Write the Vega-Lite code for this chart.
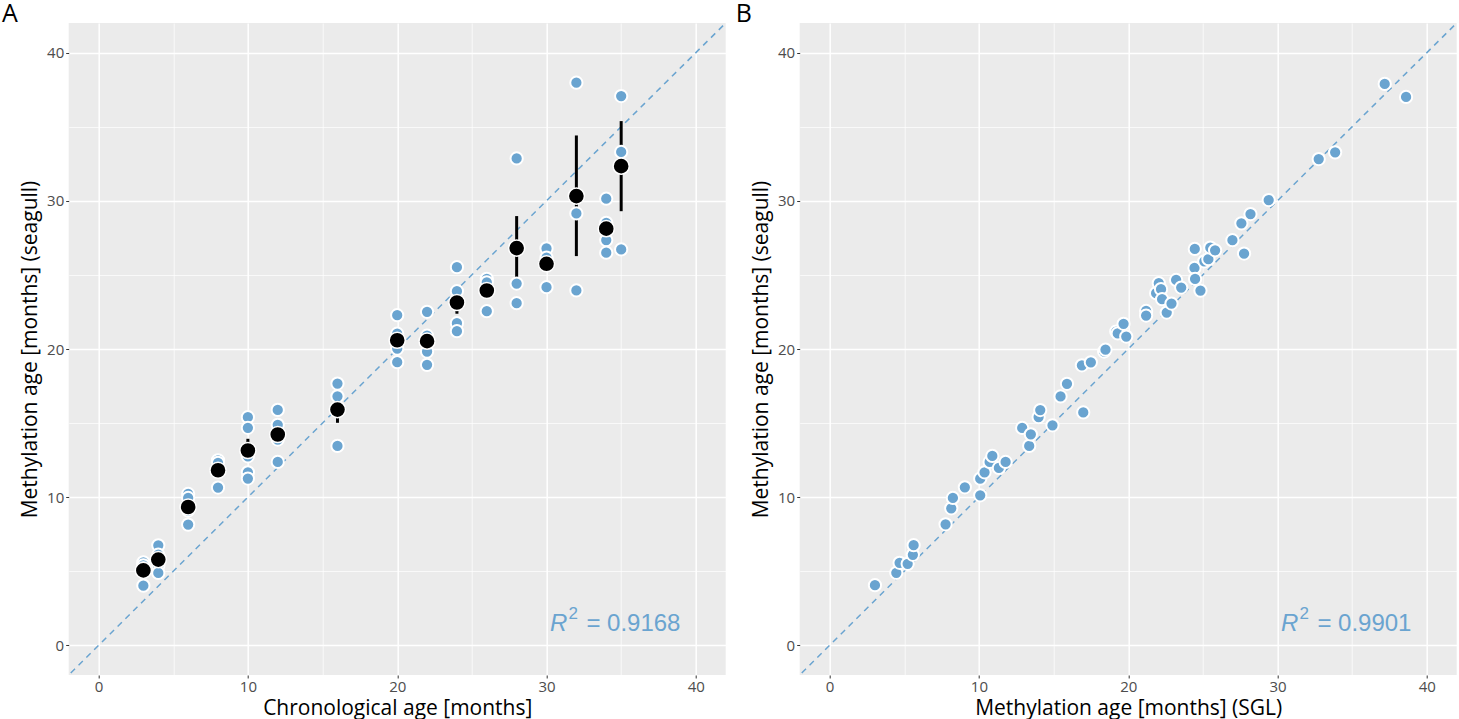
{
  "$schema": "https://vega.github.io/schema/vega-lite/v6.json",
  "background": "white",
  "padding": {"left": 1.7, "top": 2, "right": 0, "bottom": 0},
  "spacing": 10,
  "config": {
    "view": {"fill": "#ebebeb", "stroke": null},
    "axis": {"domain": false, "tickColor": "#333333", "tickSize": 3, "labelColor": "#4d4d4d", "labelFont": "Open Sans", "labelFontSize": 15, "labelPadding": 2, "labelFlush": false, "titleFont": "Open Sans", "titleFontSize": 21, "titleFontWeight": "normal", "titleColor": "#000000", "gridColor": "#ffffff"},
    "axisY": {"titlePadding": 6},
    "axisX": {"titlePadding": 3},
    "title": {"font": "Open Sans", "fontSize": 25, "fontWeight": "normal", "anchor": "start", "frame": "group", "offset": -4.35, "color": "#000000"}
  },
  "datasets": {
    "diag": [{"v": -5}, {"v": 50}],
    "indiv": [
      {"age": 3, "meth": 5.60}, {"age": 3, "meth": 5.40}, {"age": 3, "meth": 5.20}, {"age": 3, "meth": 4.03},
      {"age": 4, "meth": 6.75}, {"age": 4, "meth": 6.12}, {"age": 4, "meth": 5.60}, {"age": 4, "meth": 5.38}, {"age": 4, "meth": 4.89},
      {"age": 6, "meth": 10.22}, {"age": 6, "meth": 9.95}, {"age": 6, "meth": 9.10}, {"age": 6, "meth": 8.15},
      {"age": 8, "meth": 12.49}, {"age": 8, "meth": 12.31}, {"age": 8, "meth": 10.65},
      {"age": 10, "meth": 15.40}, {"age": 10, "meth": 14.68}, {"age": 10, "meth": 12.76}, {"age": 10, "meth": 11.68}, {"age": 10, "meth": 11.26},
      {"age": 12, "meth": 15.89}, {"age": 12, "meth": 14.88}, {"age": 12, "meth": 14.10}, {"age": 12, "meth": 13.89}, {"age": 12, "meth": 12.38},
      {"age": 16, "meth": 17.67}, {"age": 16, "meth": 16.81}, {"age": 16, "meth": 13.46},
      {"age": 20, "meth": 22.28}, {"age": 20, "meth": 21.03}, {"age": 20, "meth": 20.03}, {"age": 20, "meth": 19.11},
      {"age": 22, "meth": 22.51}, {"age": 22, "meth": 20.90}, {"age": 22, "meth": 19.83}, {"age": 22, "meth": 18.93},
      {"age": 24, "meth": 25.52}, {"age": 24, "meth": 23.90}, {"age": 24, "meth": 21.74}, {"age": 24, "meth": 21.20},
      {"age": 26, "meth": 24.74}, {"age": 26, "meth": 24.50}, {"age": 26, "meth": 24.00}, {"age": 26, "meth": 22.55},
      {"age": 28, "meth": 32.86}, {"age": 28, "meth": 24.42}, {"age": 28, "meth": 23.09},
      {"age": 30, "meth": 26.79}, {"age": 30, "meth": 26.16}, {"age": 30, "meth": 24.17},
      {"age": 32, "meth": 37.97}, {"age": 32, "meth": 29.15}, {"age": 32, "meth": 23.95},
      {"age": 34, "meth": 30.14}, {"age": 34, "meth": 28.52}, {"age": 34, "meth": 27.35}, {"age": 34, "meth": 26.50},
      {"age": 35, "meth": 37.07}, {"age": 35, "meth": 33.30}, {"age": 35, "meth": 26.72}
    ],
    "means": [
      {"age": 3, "mean": 5.06, "lo": 4.72, "hi": 5.40},
      {"age": 4, "mean": 5.79, "lo": 5.42, "hi": 6.16},
      {"age": 6, "mean": 9.34, "lo": 8.95, "hi": 9.73},
      {"age": 8, "mean": 11.82, "lo": 11.45, "hi": 12.19},
      {"age": 10, "mean": 13.15, "lo": 12.32, "hi": 13.94},
      {"age": 12, "mean": 14.23, "lo": 13.67, "hi": 14.79},
      {"age": 16, "mean": 15.91, "lo": 15.02, "hi": 16.77},
      {"age": 20, "mean": 20.59, "lo": 19.85, "hi": 21.32},
      {"age": 22, "mean": 20.53, "lo": 19.78, "hi": 21.25},
      {"age": 24, "mean": 23.14, "lo": 22.38, "hi": 23.86},
      {"age": 26, "mean": 23.95, "lo": 23.60, "hi": 24.30},
      {"age": 28, "mean": 26.81, "lo": 24.69, "hi": 28.97},
      {"age": 30, "mean": 25.75, "lo": 25.40, "hi": 26.10},
      {"age": 32, "mean": 30.32, "lo": 26.27, "hi": 34.41},
      {"age": 34, "mean": 28.12, "lo": 27.35, "hi": 28.86},
      {"age": 35, "mean": 32.34, "lo": 29.30, "hi": 35.38}
    ],
    "sgl": [
      {"sgl": 3.04, "seagull": 4.06}, {"sgl": 4.47, "seagull": 4.90}, {"sgl": 4.69, "seagull": 5.57}, {"sgl": 5.23, "seagull": 5.50},
      {"sgl": 5.58, "seagull": 6.11}, {"sgl": 5.63, "seagull": 6.76}, {"sgl": 7.77, "seagull": 8.17}, {"sgl": 8.15, "seagull": 9.25},
      {"sgl": 8.26, "seagull": 9.95}, {"sgl": 9.06, "seagull": 10.67}, {"sgl": 10.09, "seagull": 10.13}, {"sgl": 10.09, "seagull": 11.25},
      {"sgl": 10.38, "seagull": 11.68}, {"sgl": 10.72, "seagull": 12.38}, {"sgl": 10.90, "seagull": 12.78}, {"sgl": 11.34, "seagull": 11.97},
      {"sgl": 11.79, "seagull": 12.38}, {"sgl": 12.90, "seagull": 14.67}, {"sgl": 13.37, "seagull": 13.46}, {"sgl": 13.48, "seagull": 14.24},
      {"sgl": 14.00, "seagull": 15.41}, {"sgl": 14.11, "seagull": 15.88}, {"sgl": 14.93, "seagull": 14.85}, {"sgl": 15.47, "seagull": 16.80},
      {"sgl": 15.90, "seagull": 17.65}, {"sgl": 16.99, "seagull": 15.72}, {"sgl": 16.90, "seagull": 18.90}, {"sgl": 17.50, "seagull": 19.10},
      {"sgl": 18.39, "seagull": 19.83}, {"sgl": 18.48, "seagull": 19.95}, {"sgl": 19.20, "seagull": 21.18}, {"sgl": 19.30, "seagull": 21.05},
      {"sgl": 19.69, "seagull": 21.70}, {"sgl": 19.87, "seagull": 20.84}, {"sgl": 21.20, "seagull": 22.57}, {"sgl": 21.20, "seagull": 22.26},
      {"sgl": 21.87, "seagull": 23.77}, {"sgl": 22.05, "seagull": 24.44}, {"sgl": 22.20, "seagull": 24.04}, {"sgl": 22.27, "seagull": 23.36},
      {"sgl": 22.58, "seagull": 22.46}, {"sgl": 22.90, "seagull": 23.07}, {"sgl": 23.21, "seagull": 24.66}, {"sgl": 23.55, "seagull": 24.15},
      {"sgl": 24.46, "seagull": 26.75}, {"sgl": 24.44, "seagull": 25.47}, {"sgl": 24.48, "seagull": 24.73}, {"sgl": 24.84, "seagull": 23.94},
      {"sgl": 25.10, "seagull": 25.92}, {"sgl": 25.37, "seagull": 26.06}, {"sgl": 25.50, "seagull": 26.84}, {"sgl": 25.82, "seagull": 26.66},
      {"sgl": 26.98, "seagull": 27.34}, {"sgl": 27.58, "seagull": 28.48}, {"sgl": 27.76, "seagull": 26.44}, {"sgl": 28.19, "seagull": 29.11},
      {"sgl": 29.41, "seagull": 30.05}, {"sgl": 32.76, "seagull": 32.82}, {"sgl": 33.86, "seagull": 33.27}, {"sgl": 37.18, "seagull": 37.89},
      {"sgl": 38.61, "seagull": 37.01}
    ],
    "r2a": [{"x": 31.4, "y": 1.0, "r": "R", "sup": "2", "val": "= 0.9168"}],
    "r2b": [{"x": 31.4, "y": 1.0, "r": "R", "sup": "2", "val": "= 0.9901"}]
  },
  "hconcat": [
    {
      "width": 657,
      "height": 652,
      "title": {"text": "A", "dx": -66.8},
      "encoding": {
        "x": {"type": "quantitative", "scale": {"domain": [-2, 42], "nice": false, "zero": false},
          "axis": {"title": "Chronological age [months]", "values": [0, 5, 10, 15, 20, 25, 30, 35, 40],
            "labelExpr": "datum.value % 10 === 0 ? datum.label : ''",
            "tickOpacity": {"condition": {"test": "datum.value % 10 === 0", "value": 1}, "value": 0},
            "gridWidth": {"condition": {"test": "datum.value % 10 === 0", "value": 1.5}, "value": 0.7}}},
        "y": {"type": "quantitative", "scale": {"domain": [-2, 42], "nice": false, "zero": false},
          "axis": {"title": "Methylation age [months] (seagull)", "values": [0, 5, 10, 15, 20, 25, 30, 35, 40],
            "labelExpr": "datum.value % 10 === 0 ? datum.label : ''",
            "tickOpacity": {"condition": {"test": "datum.value % 10 === 0", "value": 1}, "value": 0},
            "gridWidth": {"condition": {"test": "datum.value % 10 === 0", "value": 1.5}, "value": 0.7}}}
      },
      "layer": [
        {"data": {"name": "diag"}, "mark": {"type": "line", "clip": true, "color": "#6aa4d0", "strokeWidth": 1.5, "strokeDash": [6, 5]},
          "encoding": {"x": {"field": "v"}, "y": {"field": "v"}}},
        {"data": {"name": "means"}, "mark": {"type": "rule", "color": "#000000", "strokeWidth": 3},
          "encoding": {"x": {"field": "age"}, "y": {"field": "lo"}, "y2": {"field": "hi"}}},
        {"data": {"name": "indiv"}, "mark": {"type": "point", "filled": true, "fill": "#6aa4d0", "stroke": "#ffffff", "strokeWidth": 2, "size": 150, "opacity": 1, "fillOpacity": 1},
          "encoding": {"x": {"field": "age"}, "y": {"field": "meth"}}},
        {"data": {"name": "means"}, "mark": {"type": "point", "filled": true, "fill": "#000000", "stroke": "#ffffff", "strokeWidth": 1.5, "size": 260, "opacity": 1, "fillOpacity": 1},
          "encoding": {"x": {"field": "age"}, "y": {"field": "mean"}}},
        {"data": {"name": "r2a"}, "mark": {"type": "text", "font": "Liberation Sans", "fontSize": 24, "fontStyle": "italic", "align": "right", "baseline": "alphabetic", "color": "#6aa4d0"},
          "encoding": {"x": {"field": "x"}, "y": {"field": "y"}, "text": {"field": "r"}}},
        {"data": {"name": "r2a"}, "mark": {"type": "text", "font": "Liberation Sans", "fontSize": 17, "align": "left", "baseline": "alphabetic", "dx": 1, "dy": -12, "color": "#6aa4d0"},
          "encoding": {"x": {"field": "x"}, "y": {"field": "y"}, "text": {"field": "sup"}}},
        {"data": {"name": "r2a"}, "mark": {"type": "text", "font": "Liberation Sans", "fontSize": 24, "align": "left", "baseline": "alphabetic", "dx": 19, "color": "#6aa4d0"},
          "encoding": {"x": {"field": "x"}, "y": {"field": "y"}, "text": {"field": "val"}}}
      ]
    },
    {
      "width": 657,
      "height": 652,
      "title": {"text": "B", "dx": -64},
      "encoding": {
        "x": {"type": "quantitative", "scale": {"domain": [-2, 42], "nice": false, "zero": false},
          "axis": {"title": "Methylation age [months] (SGL)", "values": [0, 5, 10, 15, 20, 25, 30, 35, 40],
            "labelExpr": "datum.value % 10 === 0 ? datum.label : ''",
            "tickOpacity": {"condition": {"test": "datum.value % 10 === 0", "value": 1}, "value": 0},
            "gridWidth": {"condition": {"test": "datum.value % 10 === 0", "value": 1.5}, "value": 0.7}}},
        "y": {"type": "quantitative", "scale": {"domain": [-2, 42], "nice": false, "zero": false},
          "axis": {"title": "Methylation age [months] (seagull)", "values": [0, 5, 10, 15, 20, 25, 30, 35, 40],
            "labelExpr": "datum.value % 10 === 0 ? datum.label : ''",
            "tickOpacity": {"condition": {"test": "datum.value % 10 === 0", "value": 1}, "value": 0},
            "gridWidth": {"condition": {"test": "datum.value % 10 === 0", "value": 1.5}, "value": 0.7}}}
      },
      "layer": [
        {"data": {"name": "diag"}, "mark": {"type": "line", "clip": true, "color": "#6aa4d0", "strokeWidth": 1.5, "strokeDash": [6, 5]},
          "encoding": {"x": {"field": "v"}, "y": {"field": "v"}}},
        {"data": {"name": "sgl"}, "mark": {"type": "point", "filled": true, "fill": "#6aa4d0", "stroke": "#ffffff", "strokeWidth": 2, "size": 150, "opacity": 1, "fillOpacity": 1},
          "encoding": {"x": {"field": "sgl"}, "y": {"field": "seagull"}}},
        {"data": {"name": "r2b"}, "mark": {"type": "text", "font": "Liberation Sans", "fontSize": 24, "fontStyle": "italic", "align": "right", "baseline": "alphabetic", "color": "#6aa4d0"},
          "encoding": {"x": {"field": "x"}, "y": {"field": "y"}, "text": {"field": "r"}}},
        {"data": {"name": "r2b"}, "mark": {"type": "text", "font": "Liberation Sans", "fontSize": 17, "align": "left", "baseline": "alphabetic", "dx": 1, "dy": -12, "color": "#6aa4d0"},
          "encoding": {"x": {"field": "x"}, "y": {"field": "y"}, "text": {"field": "sup"}}},
        {"data": {"name": "r2b"}, "mark": {"type": "text", "font": "Liberation Sans", "fontSize": 24, "align": "left", "baseline": "alphabetic", "dx": 19, "color": "#6aa4d0"},
          "encoding": {"x": {"field": "x"}, "y": {"field": "y"}, "text": {"field": "val"}}}
      ]
    }
  ]
}
